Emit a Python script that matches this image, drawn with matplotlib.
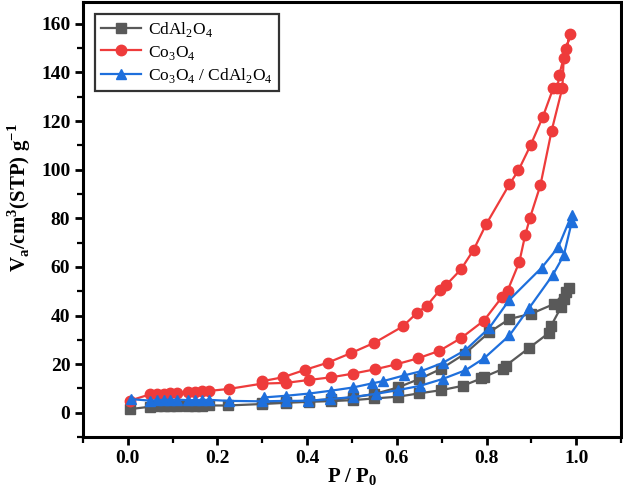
import matplotlib
matplotlib.use("Agg")
import matplotlib.pyplot as plt
from matplotlib.ticker import MultipleLocator

plt.rcParams["font.family"] = ["Liberation Serif", "DejaVu Serif"]
plt.rcParams["mathtext.fontset"] = "custom"
plt.rcParams["mathtext.rm"] = "Liberation Serif"
plt.rcParams["mathtext.bf"] = "Liberation Serif:bold"

# CdAl2O4 : adsorption then desorption
cd_p = [0.005, 0.05, 0.065, 0.08, 0.095, 0.11, 0.135, 0.15, 0.165, 0.182, 0.223,
        0.30, 0.353, 0.404, 0.454, 0.502, 0.55, 0.602, 0.650, 0.699, 0.747, 0.788,
        0.795, 0.836, 0.843, 0.895, 0.94, 0.943, 0.966, 0.973, 0.978, 0.984,
        0.951, 0.899, 0.851, 0.806, 0.751, 0.698, 0.650, 0.602, 0.550, 0.502,
        0.454, 0.404, 0.353, 0.30]
cd_v = [1.5, 2.5, 2.6, 2.7, 2.7, 2.8, 2.8, 2.9, 2.9, 3.0, 3.0,
        3.6, 4.1, 4.5, 4.8, 5.2, 5.9, 6.6, 8.0, 9.3, 11.1, 14.1,
        14.8, 18.0, 19.4, 26.7, 33.0, 35.5, 43.4, 47.0, 49.6, 51.4,
        44.8, 40.7, 38.6, 33.1, 24.2, 18.0, 13.9, 10.4, 7.7, 6.3,
        5.6, 5.0, 4.6, 3.9]

# Co3O4
co_p = [0.005, 0.05, 0.065, 0.08, 0.095, 0.11, 0.135, 0.15, 0.165, 0.182, 0.225,
        0.30, 0.353, 0.404, 0.454, 0.502, 0.552, 0.598, 0.647, 0.695, 0.743, 0.794,
        0.834, 0.847, 0.873, 0.886, 0.897, 0.92, 0.945, 0.969, 0.972, 0.987,
        0.977, 0.962, 0.958, 0.949, 0.925, 0.898, 0.871, 0.851, 0.799, 0.771,
        0.743, 0.71, 0.697, 0.667, 0.645, 0.613, 0.55, 0.497, 0.446, 0.396,
        0.346, 0.30]
co_v = [5.0, 7.6, 7.8, 7.9, 8.0, 8.1, 8.5, 8.7, 8.8, 9.0, 9.8,
        12.0, 12.3, 13.5, 14.6, 16.1, 17.9, 19.9, 22.4, 25.5, 30.7, 37.9,
        47.5, 50.3, 62.0, 73.0, 80.3, 93.6, 116.0, 133.7, 146.0, 156.0,
        149.6, 139.0, 133.7, 133.7, 121.5, 110.0, 99.7, 94.0, 77.5, 67.0,
        59.0, 52.6, 50.7, 44.1, 41.1, 35.5, 28.8, 24.5, 20.6, 17.7,
        14.6, 13.0]

# Co3O4 / CdAl2O4
cc_p = [0.008, 0.05, 0.065, 0.08, 0.095, 0.11, 0.135, 0.15, 0.165, 0.182, 0.225,
        0.30, 0.353, 0.402, 0.45, 0.503, 0.554, 0.602, 0.652, 0.702, 0.753, 0.795,
        0.851, 0.895, 0.947, 0.972, 0.99, 0.99,
        0.96, 0.923, 0.851, 0.806, 0.753, 0.702, 0.654, 0.617, 0.569, 0.545,
        0.502, 0.454, 0.404, 0.353, 0.303]
cc_v = [5.6, 5.0, 5.2, 5.3, 5.3, 5.4, 5.2, 5.2, 5.3, 5.3, 4.9,
        4.7, 4.9, 4.9, 5.6, 6.5, 7.8, 9.3, 11.1, 13.9, 17.5, 22.5,
        31.8, 43.1, 56.5, 64.7, 78.5, 81.5,
        68.2, 59.7, 46.5, 34.9, 25.8, 20.5, 17.1, 15.4, 13.0, 12.1,
        10.4, 9.1, 7.9, 7.0, 6.3]

fig = plt.figure(figsize=(6.23, 4.90), dpi=100)
ax = fig.add_axes([0.133, 0.108, 0.864, 0.888])

ax.plot(cd_p, cd_v, color="#595959", marker="s", ms=6.5, lw=1.6,
        label=r"CdAl$_\mathregular{2}$O$_\mathregular{4}$")
ax.plot(co_p, co_v, color="#EE3B3B", marker="o", ms=7.5, lw=1.6,
        label=r"Co$_\mathregular{3}$O$_\mathregular{4}$")
ax.plot(cc_p, cc_v, color="#1E6FDC", marker="^", ms=7.5, lw=1.6,
        label=r"Co$_\mathregular{3}$O$_\mathregular{4}$ / CdAl$_\mathregular{2}$O$_\mathregular{4}$")

ax.set_xlim(-0.1, 1.1)
ax.set_ylim(-10, 169)
ax.xaxis.set_minor_locator(MultipleLocator(0.1))
ax.yaxis.set_major_locator(MultipleLocator(20))
ax.yaxis.set_minor_locator(MultipleLocator(10))
ax.set_xticks([0.0, 0.2, 0.4, 0.6, 0.8, 1.0])
ax.set_xticklabels(["0.0", "0.2", "0.4", "0.6", "0.8", "1.0"])

for s in ax.spines.values():
    s.set_linewidth(2.2)
ax.tick_params(which="major", direction="out", length=6, width=2.0,
               labelsize=14, pad=3, top=False, right=False)
ax.tick_params(which="minor", direction="out", length=4, width=1.6,
               top=False, right=False)
for lab in ax.get_xticklabels() + ax.get_yticklabels():
    lab.set_fontweight("bold")

ax.set_xlabel(r"P / P$_\mathregular{0}$", fontsize=15, fontweight="bold")
ax.xaxis.set_label_coords(0.5, -0.068)
ax.set_ylabel(r"V$_\mathregular{a}$/cm$^\mathregular{3}$(STP) g$^\mathregular{-1}$",
              fontsize=15, fontweight="bold")
ax.yaxis.set_label_coords(-0.092, 0.55)

leg = ax.legend(loc="upper left", fontsize=12.5, frameon=True, fancybox=False,
                edgecolor="black", borderaxespad=0.7, handlelength=2.3,
                labelspacing=0.25, borderpad=0.35, handletextpad=0.4)
leg.get_frame().set_linewidth(1.6)

fig.savefig("out.png", dpi=100)
